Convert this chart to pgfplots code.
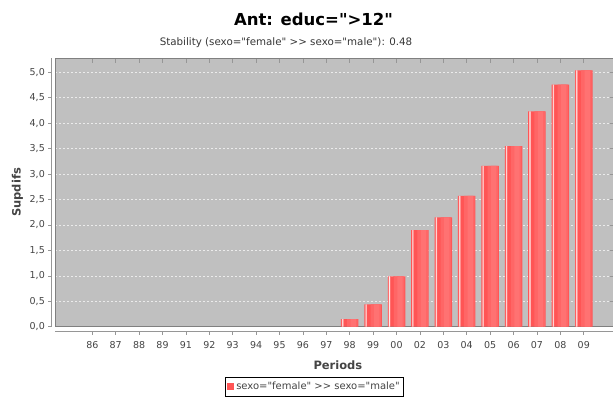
\documentclass[border=0pt]{standalone}
\usepackage{fontspec}
\setmainfont{DejaVu Sans}[Ligatures=TeXOff]
\usepackage{pgfplots}
\pgfplotsset{compat=1.18}
\usepackage{pgfplotstable}
\definecolor{plotgray}{RGB}{192,192,192}
\definecolor{outlinegray}{RGB}{128,128,128}
\definecolor{axisgray}{RGB}{150,150,150}
\definecolor{textgray}{RGB}{68,68,68}
\definecolor{barred}{RGB}{255,85,85}
\definecolor{barmid}{RGB}{255,102,102}
\definecolor{barlight}{RGB}{255,114,114}
\definecolor{gridwhite}{RGB}{235,235,235}
\pgfplotstableread{
idx val
0 0
1 0
2 0
3 0
4 0
5 0
6 0
7 0
8 0
9 0
10 0
11 0.15
12 0.44
13 0.99
14 1.90
15 2.15
16 2.57
17 3.16
18 3.55
19 4.23
20 4.76
21 5.04
}\datatable
\begin{document}
\begin{tikzpicture}[x=1bp,y=1bp]
\path[use as bounding box] (0,0) rectangle (613,398);
\node[anchor=base, font=\fontsize{16.5bp}{18bp}\selectfont\bfseries] at (313.5,373) {Ant: educ=">12"};
\node[anchor=base, text=textgray!80!black, font=\fontsize{10.3bp}{12bp}\selectfont] at (286,353) {Stability (sexo="female" >> sexo="male"): 0.48};
\begin{axis}[
  at={(55bp,71.3bp)}, anchor=south west,
  scale only axis, width=558bp, height=268.4bp,
  xmin=-1.594, xmax=22.25, ymin=0, ymax=5.275,
  axis background/.style={fill=plotgray},
  axis line style={draw=outlinegray, line width=0.8bp},
  xtick={0,...,21},
  xticklabels={86,87,88,89,91,92,93,94,95,96,97,98,99,00,02,03,04,05,06,07,08,09},
  ytick={0,0.5,...,5.01},
  /pgf/number format/.cd, fixed, fixed zerofill, precision=1, use comma, assume math mode=true,
  /pgfplots/.cd,
  tick align=outside, major tick length=3.5bp,
  xtick style={draw=axisgray, line width=0.6bp, yshift=-4.3bp},
  ytick style={draw=axisgray, line width=0.6bp, xshift=-3.3bp},
  x tick label style={font=\fontsize{9.5bp}{11bp}\selectfont, text=textgray, inner sep=0pt, anchor=north},
  y tick label style={font=\fontsize{9.5bp}{11bp}\selectfont, text=textgray, inner sep=0pt, anchor=east},
  xticklabel shift=10.8bp, yticklabel shift=6.5bp,
  ymajorgrids, xmajorgrids=false,
  major grid style={draw=gridwhite, dash pattern=on 2bp off 2bp, line width=0.6bp},
  xlabel={Periods}, ylabel={Supdifs},
  xlabel style={at={([yshift=-42.3bp]axis description cs:0.507,0)}, anchor=base, font=\fontsize{11.5bp}{13bp}\selectfont\bfseries, text=textgray},
  ylabel style={at={([xshift=-34.5bp]axis description cs:0,0.5)}, anchor=base, font=\fontsize{11.5bp}{13bp}\selectfont\bfseries, text=textgray},
  legend style={at={(axis description cs:0.465,-0.1874)}, anchor=north, draw=black, line width=0.6bp, fill=white, font=\fontsize{10bp}{12bp}\selectfont, text=textgray, inner xsep=2bp, inner ysep=3bp},
  legend image code/.code={\fill[barred] (0bp,-3.5bp) rectangle (7bp,3.5bp);},
  clip=false,
  bar filter/.style={y filter/.expression={y==0 ? nan : y}, unbounded coords=discard},
]
% base bars
\addplot[ybar, bar width=17.5bp, bar shift=0bp, draw=none, fill=barred, bar filter] table[x=idx, y=val] {\datatable};
\addlegendentry{sexo="female" >> sexo="male"}
% gradient approximation bands (same values)
\addplot[ybar, bar width=10.5bp, bar shift=2.625bp, draw=none, fill=barmid, bar filter, forget plot] table[x=idx, y=val] {\datatable};
\addplot[ybar, bar width=5.25bp, bar shift=3.5bp, draw=none, fill=barlight, bar filter, forget plot] table[x=idx, y=val] {\datatable};
\addplot[ybar, bar width=1.6bp, bar shift=-7.0bp, draw=none, fill=white!45!barred, bar filter, forget plot] table[x=idx, y=val] {\datatable};
\addplot[ybar, bar width=0.6bp, bar shift=-7.0bp, draw=none, fill=white!88!barred, bar filter, forget plot] table[x=idx, y=val] {\datatable};
\draw[axisgray, line width=0.8bp] ([yshift=-4.3bp]rel axis cs:0,0) -- ([yshift=-4.3bp]rel axis cs:1,0);
\draw[axisgray, line width=0.8bp] ([xshift=-3.3bp]rel axis cs:0,0) -- ([xshift=-3.3bp]rel axis cs:0,1);
\end{axis}
\end{tikzpicture}
\end{document}
